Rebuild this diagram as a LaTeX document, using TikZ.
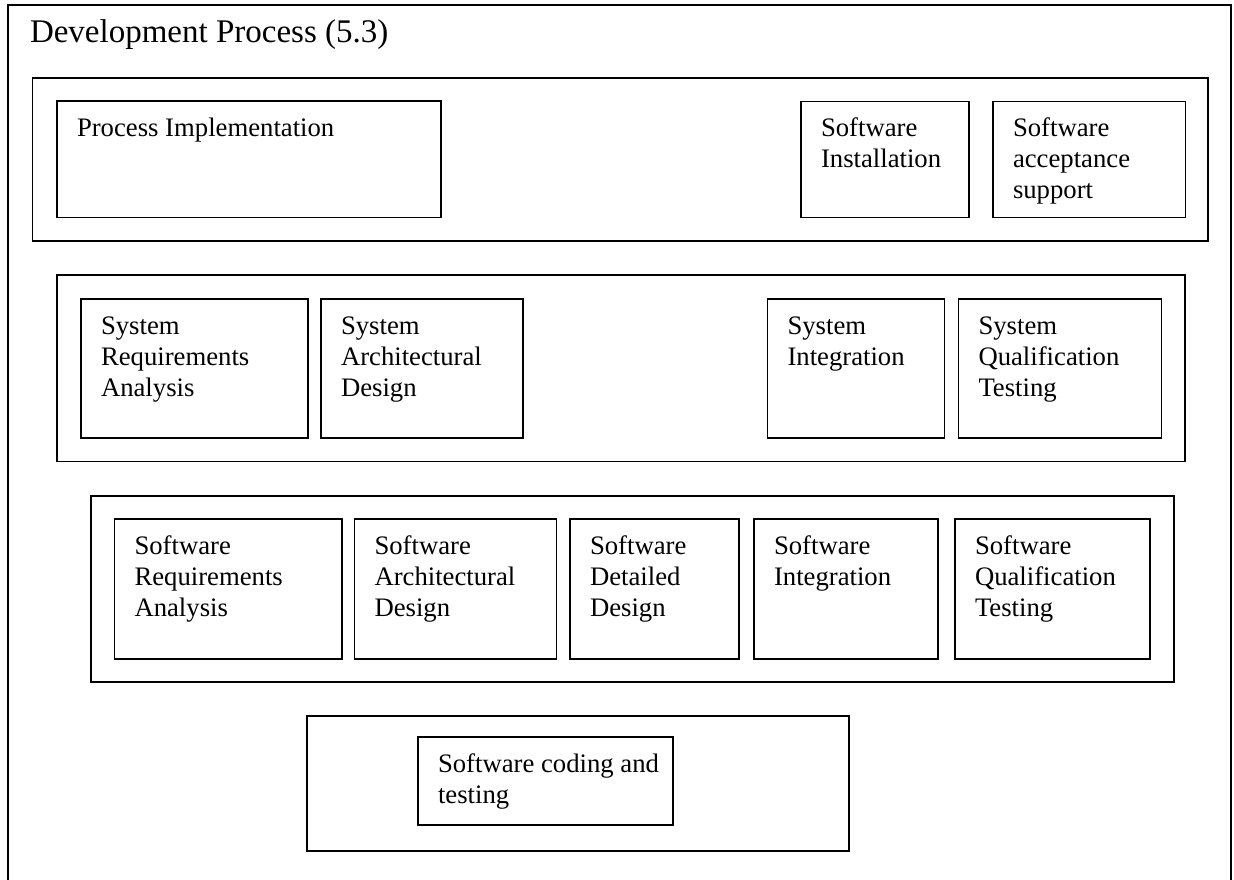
\documentclass[tikz,border=0pt]{standalone}
\usepackage{fontspec}
\setmainfont{Liberation Serif}
\usetikzlibrary{fit}

% stagebox{name}{x1}{y1}{x2}{y2}{lines}: framed activity with its caption at the top left
\newcommand\stagebox[6]{%
  \node[pbox, fit={(#2,#3) (#4,#5)}] (#1) {};
  \node[plabel] (#1-text) at ([shift={(20,35.5)}]#1.north west)
    {\begin{tabular}[t]{@{}l@{}}#6\end{tabular}};%
}
% groupbox{name}{x1}{y1}{x2}{y2}: frame that groups a row of activities
\newcommand\groupbox[5]{%
  \node[pbox, fit={(#2,#3) (#4,#5)}] (#1) {};%
}

\begin{document}
\begin{tikzpicture}[
  x=1pt, y=-1pt,
  pbox/.style={draw=black, line width=1.9pt, inner sep=0pt, outer sep=0pt},
  plabel/.style={anchor=base west, inner sep=0pt, outer sep=0pt,
    font={\fontsize{26.7pt}{31pt}\selectfont}},
  ptitle/.style={anchor=base west, inner sep=0pt, outer sep=0pt,
    font={\fontsize{33pt}{38pt}\selectfont}}
]
\useasboundingbox[fill=white] (0,0) rectangle (1234,880);

% outer frame, running past the bottom edge
\groupbox{outer}{8}{5}{1231}{900}
\node[ptitle] (title) at ([shift={(22,38)}]outer.north west) {Development Process (5.3)};

% first row
\groupbox{rowA}{32.5}{78}{1208}{241}
\stagebox{procimpl}{57}{101}{441}{217.5}{Process Implementation}
\stagebox{swinst}{801}{101.5}{969}{217.5}{Software\\Installation}
\stagebox{swacc}{993}{101.5}{1185.5}{217.5}{Software\\acceptance\\support}

% system level
\groupbox{rowB}{57}{275}{1185}{461.5}
\stagebox{sysreq}{81}{299}{308}{438}{System\\Requirements\\Analysis}
\stagebox{sysarch}{321}{299}{523}{438}{System\\Architectural\\Design}
\stagebox{sysint}{767.5}{299}{944.5}{438}{System\\Integration}
\stagebox{sysqual}{958.5}{299}{1161.5}{438}{System\\Qualification\\Testing}

% software level
\groupbox{rowC}{91}{496}{1174}{682}
\stagebox{swreq}{114.5}{519}{342}{659}{Software\\Requirements\\Analysis}
\stagebox{swarch}{354.5}{519}{556.5}{659}{Software\\Architectural\\Design}
\stagebox{swdet}{570}{519}{739}{659}{Software\\Detailed\\Design}
\stagebox{swint}{754}{519}{938}{659}{Software\\Integration}
\stagebox{swqual}{955}{519}{1150}{659}{Software\\Qualification\\Testing}

% coding
\groupbox{rowD}{307}{716}{849}{851}
\stagebox{swcode}{418}{737}{673}{825}{Software coding and\\testing}
\end{tikzpicture}
\end{document}
